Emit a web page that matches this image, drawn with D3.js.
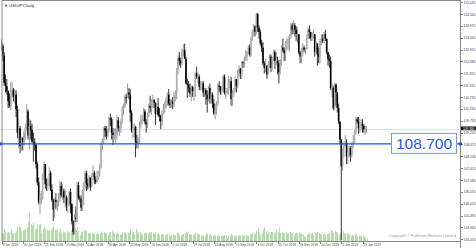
<!DOCTYPE html>
<html>
<head>
<meta charset="utf-8">
<title>USDJPY Daily</title>
<script src="https://d3js.org/d3.v7.min.js"></script>
<style>
  body { margin: 0; background: #fff; }
  svg { display: block; font-family: "Liberation Sans", Arial, sans-serif; }
  .axis path, .axis line { stroke: #888; shape-rendering: crispEdges; }
  .axis text { fill: #444; }
</style>
</head>
<body>
<script>
// daily bars, 8 Jan 2018 .. 30 Jan 2019 (one row per week)
const high = [
  113.38,113.20,112.80,111.80,111.60, 111.10,110.95,111.45,111.48,111.20,
  111.15,111.10,110.40,109.80,109.50, 109.00,109.00,109.30,109.60,110.48,
  110.25,109.80,109.75,109.60,109.20, 108.95,108.70,107.90,107.20,106.50,
  106.60,107.40,107.90,107.80,107.15, 107.20,107.65,107.50,106.90,106.25,
  106.30,106.50,106.20,106.50,107.05, 107.00,106.90,106.70,106.65,106.40,
  106.30,106.60,106.70,106.05,105.30, 105.55,105.90,107.00,107.00,106.40,
  106.40,106.65,107.00,107.50,107.50, 107.15,107.30,107.20,107.40,107.75,
  107.50,107.25,107.50,107.50,107.80, 108.80,108.95,109.45,109.50,109.50,
  109.40,109.90,110.05,109.90,109.40, 109.40,109.40,110.00,109.90,109.50,
  109.80,110.40,110.50,110.90,110.95, 111.40,111.20,111.15,110.20,109.60,
  109.60,109.50,109.10,109.00,109.70, 110.00,110.00,110.30,110.25,109.80,
  110.10,110.50,110.85,110.70,110.90, 110.70,110.55,110.50,110.75,110.30,
  110.00,110.20,110.50,110.60,110.80, 111.00,111.15,110.70,110.70,110.80,
  111.00,111.10,112.10,112.65,112.80, 112.55,112.95,113.15,113.18,112.60,
  111.60,111.50,111.40,111.30,111.30, 111.20,111.90,112.15,111.90,111.80,
  111.50,111.50,111.50,111.20,111.20, 111.10,111.30,111.40,111.00,111.00,
  110.70,110.50,110.60,111.40,111.50, 111.30,111.30,111.80,111.80,111.20,
  111.20,111.75,111.60,111.70,111.10, 111.20,111.70,111.60,112.00,112.20,
  112.10,112.40,112.40,112.60,112.90, 112.85,113.10,113.15,113.50,113.80,
  114.05,114.00,114.55,114.55,114.00, 113.80,113.35,113.25,112.40,112.50,
  112.20,112.40,112.70,112.70,112.60, 112.90,112.90,112.80,112.60,112.45,
  112.50,113.10,113.40,113.00,113.30, 113.40,113.50,113.60,114.10,114.10,
  114.20,114.10,113.95,113.90,113.60, 112.85,113.00,113.20,113.10,113.00,
  113.60,113.90,114.00,113.70,113.70, 113.80,113.60,113.30,113.10,113.00,
  113.40,113.60,113.60,113.70,113.80, 113.40,112.80,112.70,112.60,111.40,
  111.30,111.40,111.40,111.00,110.50, 109.70,108.90,108.50,108.80,109.10,
  108.90,108.60,108.60,108.60,108.80, 109.10,109.30,109.90,109.90,109.90,
  109.80,109.80,109.80,109.60,109.50, 109.50
];
const low = [
  112.85,112.40,111.30,111.00,110.90, 110.30,110.32,110.20,110.80,110.60,
  110.50,109.90,108.95,108.50,108.28, 108.40,108.40,108.60,108.90,109.30,
  108.90,108.45,108.90,108.75,107.90, 108.40,107.60,106.85,106.00,105.55,
  106.00,106.20,107.10,106.70,106.60, 106.60,106.80,106.60,106.10,105.25,
  105.40,105.80,105.70,105.90,106.10, 106.30,106.20,106.05,105.85,105.70,
  105.60,105.90,105.60,105.10,104.63, 104.65,105.20,105.20,106.20,106.10,
  105.70,105.70,105.95,106.70,106.60, 106.65,106.70,106.60,106.75,107.20,
  106.90,106.90,107.00,107.10,107.25, 107.60,108.40,108.70,109.00,108.90,
  109.00,109.20,109.50,108.90,108.65, 108.90,108.70,108.90,109.25,109.05,
  109.20,109.60,110.00,110.30,110.50, 110.80,110.70,109.70,109.20,108.95,
  109.00,108.10,108.50,108.50,108.70, 109.40,109.60,109.70,109.60,109.20,
  109.40,109.90,110.10,110.00,110.30, 110.30,109.55,110.00,109.90,109.70,
  109.35,109.50,110.00,110.10,110.30, 110.40,110.40,110.30,110.30,110.25,
  110.35,110.60,110.70,111.80,112.20, 112.10,112.20,112.60,112.50,111.35,
  110.75,111.00,110.80,110.60,110.80, 110.60,110.80,111.60,111.40,111.10,
  111.10,111.10,110.80,110.80,110.45, 110.10,110.60,110.50,110.50,110.30,
  110.00,109.80,110.00,110.40,111.00, 110.90,110.90,111.00,110.90,110.70,
  110.90,110.90,111.20,110.40,110.40, 110.80,111.00,111.00,111.20,111.70,
  111.60,111.60,112.10,112.10,112.40, 112.40,112.70,112.60,112.60,113.30,
  113.50,113.50,113.60,113.70,113.40, 113.10,112.80,112.20,111.85,111.90,
  111.60,111.80,112.10,111.90,112.00, 112.40,112.05,112.20,111.80,111.40,
  111.80,112.20,112.80,112.40,112.40, 112.90,112.90,112.80,113.40,113.60,
  113.60,113.50,113.30,113.20,112.70, 112.30,112.30,112.60,112.80,112.70,
  112.90,113.40,113.40,113.30,113.30, 113.40,112.60,112.80,112.20,112.30,
  112.30,113.10,113.20,113.20,113.30, 112.70,112.20,112.10,111.10,110.80,
  110.20,110.20,110.40,110.10,109.60, 108.70,104.40,107.50,108.10,108.60,
  107.80,107.80,108.10,107.90,108.10, 108.50,108.70,109.10,109.60,109.15,
  109.20,109.30,109.20,109.20,109.10, 109.20
];
const close = [
  113.10,112.65,111.43,111.28,111.05, 110.60,110.42,111.05,111.10,110.78,
  110.90,110.25,109.20,109.40,108.60, 108.96,108.78,109.18,109.42,110.15,
  109.07,109.50,109.32,108.80,108.77, 108.65,107.80,106.98,106.10,106.30,
  106.30,107.30,107.80,106.90,106.85, 106.90,107.40,106.65,106.20,105.75,
  106.20,106.10,106.10,106.25,106.82, 106.40,106.60,106.30,106.30,105.95,
  106.10,106.55,106.00,105.25,104.75, 105.40,105.35,106.85,106.30,106.25,
  105.85,106.60,106.80,107.40,106.93, 106.80,107.20,106.80,107.35,107.40,
  107.10,107.00,107.20,107.40,107.62, 108.70,108.80,109.40,109.30,109.05,
  109.30,109.85,109.80,109.20,109.10, 109.10,109.10,109.75,109.40,109.40,
  109.70,110.30,110.35,110.80,110.75, 111.00,110.90,110.10,109.30,109.40,
  109.45,108.80,108.75,108.80,109.50, 109.80,109.80,110.15,109.70,109.55,
  110.05,110.40,110.30,110.60,110.65, 110.55,110.05,110.35,110.00,109.95,
  109.70,110.10,110.25,110.50,110.70, 110.90,110.50,110.45,110.60,110.48,
  110.85,111.00,112.00,112.55,112.40, 112.30,112.85,112.90,112.50,111.40,
  111.35,111.20,110.95,111.25,111.05, 111.05,111.85,111.70,111.70,111.25,
  111.40,111.40,111.00,111.10,110.90, 110.70,111.20,110.70,110.90,110.50,
  110.05,110.20,110.50,111.30,111.25, 111.10,111.20,111.70,111.00,111.00,
  111.10,111.50,111.50,110.70,111.00, 111.10,111.60,111.30,111.95,112.05,
  111.85,112.35,112.30,112.50,112.60, 112.80,113.00,112.70,113.40,113.70,
  113.95,113.70,114.50,113.90,113.70, 113.20,113.00,112.30,112.10,112.20,
  111.80,112.25,112.60,112.10,112.55, 112.80,112.40,112.40,112.30,111.90,
  112.40,113.00,112.90,112.75,113.20, 113.20,113.40,113.50,114.00,113.80,
  114.00,113.80,113.60,113.60,112.80, 112.60,112.90,113.00,112.90,112.95,
  113.50,113.80,113.70,113.45,113.55, 113.60,112.80,113.20,112.70,112.60,
  113.30,113.40,113.30,113.60,113.40, 112.80,112.50,112.40,111.20,111.20,
  110.30,111.35,111.00,110.30,109.70, 108.90,107.70,108.50,108.70,108.75,
  108.15,108.40,108.50,108.20,108.70, 108.80,109.20,109.80,109.70,109.40,
  109.60,109.60,109.50,109.35,109.37, 109.38
];
const firstOpen = 113.05;
// tick volume, one row per week
const volume = [
  30,28,45,35,30, 32,30,40,30,28, 30,35,50,55,48, 35,38,40,42,50,
  70,100,60,55,65, 40,45,60,58,62, 30,45,50,42,40, 35,40,38,45,55,
  40,38,42,35,45, 30,35,32,30,35, 30,32,38,45,55, 45,40,50,35,20,
  32,35,40,38,35, 28,30,28,30,25, 28,25,26,27,28, 35,30,32,28,30,
  22,30,32,35,30, 25,26,30,28,22, 25,32,30,30,26, 30,28,40,35,32,
  25,45,35,30,32, 25,24,28,30,28, 26,30,30,32,30, 25,30,25,28,24,
  25,24,22,22,24, 24,26,18,22,25, 20,22,30,28,24, 20,24,26,28,35,
  30,25,22,25,22, 25,30,28,25,24, 20,18,20,18,28, 26,22,25,20,20,
  22,20,18,22,18, 18,17,20,22,20, 12,18,18,25,20, 18,20,18,22,20,
  20,22,18,20,22, 18,20,22,28,26, 25,28,35,45,30, 22,28,40,50,35,
  28,30,26,32,30, 28,30,42,32,48, 28,30,30,28,32, 26,28,32,30,28,
  22,26,30,28,30, 25,28,24,15,18, 22,26,30,26,28, 22,30,28,32,28,
  25,26,24,28,22, 26,25,30,40,35, 28,35,32,30,22, 30,45,35,28,26,
  28,25,22,18,22, 20,22,25,15,20, 18,18,20,16,10, 8
];
const tickIdx = [0,16,32,48,64,80,96,112,128,144,160,176,192,208,224,240,256,272];
const tickLabels = ["8 Jan 2018","30 Jan 2018","21 Feb 2018","15 Mar 2018","6 Apr 2018",
  "30 Apr 2018","22 May 2018","13 Jun 2018","5 Jul 2018","27 Jul 2018","20 Aug 2018",
  "11 Sep 2018","3 Oct 2018","25 Oct 2018","16 Nov 2018","10 Dec 2018","3 Jan 2019","25 Jan 2019"];
const priceTicks = [115.035,114.505,113.975,113.445,112.915,112.385,111.855,111.325,110.795,
  110.265,109.735,109.205,108.675,108.145,107.615,107.085,106.555,106.025,105.495,104.965,104.435];
const hLine = 108.700;
const symbol = "USDJPY,Daily";

const width = 476, height = 248;
const plotRight = 460, plotBottom = 241;

const svg = d3.select("body").append("svg")
    .attr("width", width)
    .attr("height", height);

const x = d3.scaleLinear().domain([0, 275]).range([1.5, 366.5]);
const y = d3.scaleLinear().domain([104.36, 115.13]).range([plotBottom, 0]);
const yVol = d3.scaleLinear().domain([0, 100]).range([plotBottom, 213]);

const bars = close.map((c, i) => ({
  i: i,
  o: i ? close[i - 1] : firstOpen,
  h: high[i], l: low[i], c: c, v: volume[i]
}));

// volume
svg.append("g").selectAll("rect")
  .data(bars)
  .enter().append("rect")
    .attr("x", d => Math.round(x(d.i)))
    .attr("width", 1)
    .attr("y", d => yVol(d.v))
    .attr("height", d => plotBottom - yVol(d.v))
    .attr("fill", "#b4dcaa");

// current price line
const last = bars[bars.length - 1];
svg.append("line")
    .attr("x1", 0).attr("x2", plotRight)
    .attr("y1", Math.round(y(last.c)) + 0.5).attr("y2", Math.round(y(last.c)) + 0.5)
    .attr("stroke", "#e2e2e2");

// candles: wick + body
const candle = svg.append("g").selectAll("g")
  .data(bars)
  .enter().append("g");
candle.append("line")
    .attr("x1", d => x(d.i))
    .attr("x2", d => x(d.i))
    .attr("y1", d => y(d.h))
    .attr("y2", d => y(d.l))
    .attr("stroke", d => d.c >= d.o ? "#9a9a9a" : "#333")
    .attr("stroke-width", 1);
candle.append("rect")
    .attr("x", d => x(d.i) - 0.8)
    .attr("width", 1.6)
    .attr("y", d => y(Math.max(d.o, d.c)))
    .attr("height", d => Math.max(0.6, Math.abs(y(d.o) - y(d.c))))
    .attr("fill", d => d.c >= d.o ? "#b0b0b0" : "#000");

// horizontal line 108.700
svg.append("line")
    .attr("x1", 0).attr("x2", plotRight)
    .attr("y1", y(hLine)).attr("y2", y(hLine))
    .attr("stroke", "#1a4cff").attr("stroke-width", 1.2);
svg.append("rect")
    .attr("x", 0).attr("y", y(hLine) - 1.5).attr("width", 3).attr("height", 3)
    .attr("fill", "#1a4cff");

// frame
svg.append("path")
    .attr("d", `M2,${plotBottom}V0.5H${plotRight}`)
    .attr("fill", "none").attr("stroke", "#888");

// right axis
const yAxis = svg.append("g")
    .attr("class", "axis")
    .attr("transform", `translate(${plotRight + 0.5},0)`)
    .call(d3.axisRight(y).tickValues(priceTicks).tickSize(2).tickPadding(1)
      .tickFormat(d3.format(".3f")));
yAxis.selectAll("text").attr("font-size", 3.4);
yAxis.select(".domain").attr("d", `M0,0V${height}`);

// bottom axis
const xAxis = svg.append("g")
    .attr("class", "axis")
    .attr("transform", `translate(0,${plotBottom + 0.5})`)
    .call(d3.axisBottom(x).tickValues(tickIdx).tickSize(2).tickPadding(0.5)
      .tickFormat((d, i) => tickLabels[i]));
xAxis.select(".domain").attr("d", `M2,0H${plotRight}`);
xAxis.selectAll("text").attr("font-size", 3.2).attr("text-anchor", "start").attr("dx", 0.5);

// current price marker on the axis
const yLast = y(last.c);
svg.append("rect")
    .attr("x", plotRight + 1).attr("y", yLast - 2.2)
    .attr("width", 15).attr("height", 3.8).attr("fill", "#111");
svg.append("text")
    .attr("x", plotRight + 3).attr("y", yLast + 0.9)
    .attr("font-size", 3.2).attr("fill", "#fff")
    .text(last.c.toFixed(3));
svg.append("rect")
    .attr("x", plotRight - 1).attr("y", y(hLine) - 1.5).attr("width", 3).attr("height", 3)
    .attr("fill", "#1a4cff");

// line label
svg.append("rect")
    .attr("x", 391.5).attr("y", y(hLine) - 10.5)
    .attr("width", 65).attr("height", 20)
    .attr("fill", "#fff").attr("stroke", "#6f95ff");
svg.append("text")
    .attr("x", 424).attr("y", y(hLine) + 5.5)
    .attr("text-anchor", "middle")
    .attr("font-size", 15.5).attr("fill", "#2255ee")
    .text(hLine.toFixed(3));

// captions
svg.append("text")
    .attr("x", 4).attr("y", 6.5)
    .attr("font-size", 4).attr("fill", "#222")
    .text("\u25BC " + symbol);
svg.append("text")
    .attr("x", 456).attr("y", 236.5)
    .attr("text-anchor", "end")
    .attr("font-size", 4).attr("fill", "#999")
    .text("Copyright \u00A9 Fullerton Markets Limited");
</script>
</body>
</html>
